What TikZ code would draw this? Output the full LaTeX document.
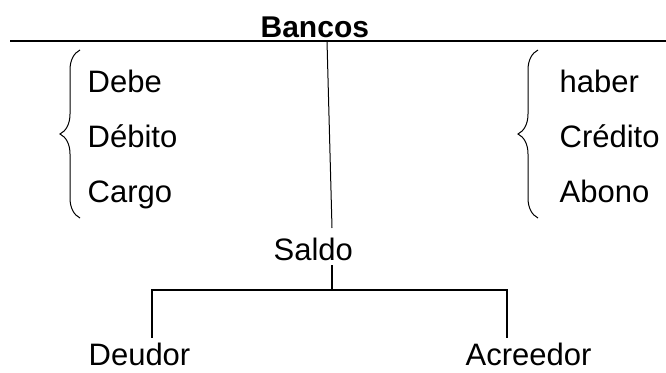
\documentclass[tikz,border=0pt]{standalone}
\usepackage{fontspec}
\setmainfont{Liberation Sans}
\usetikzlibrary{positioning,decorations.pathreplacing}

\begin{document}
\begin{tikzpicture}[%
x=1pt,
y=-1pt,
line width=1.3pt,
word/.style={inner sep=0pt, anchor=base west, font=\fontsize{31}{36}\selectfont},
title/.style={word, font=\fontsize{30}{36}\selectfont\bfseries},
curly/.style={line width=1pt, decorate, decoration={brace, amplitude=20pt, aspect=0.5}}
]
\useasboundingbox (0,0) rectangle (666,372);

% account header
\node[title] (bancos) at (260,37) {Bancos};
\coordinate (ruleL) at (10,41);
\coordinate (ruleR) at (666,41);
\draw (ruleL) -- (ruleR);

% left side
\node[word] (debe) at (87,92) {Debe};
\node[word] (debito) at (87,147) {Débito};
\node[word] (cargo) at (87,202) {Cargo};
\draw[curly] (80,218) -- (80,50);

% right side
\node[word] (haber) at (559,92) {haber};
\node[word] (credito) at (559,147) {Crédito};
\node[word] (abono) at (559,202) {Abono};
\draw[curly] (538,218) -- (538,50);

% stem down to saldo
\coordinate (stemTop) at (327,41);
\coordinate (stemEnd) at (332,228);
\draw[line width=1pt] (stemTop) -- (stemEnd);
\node[word] (saldo) at (273,260) {Saldo};

% saldo splits
\node[word] (deudor) at (88,365) {Deudor};
\node[word] (acreedor) at (465,365) {Acreedor};
\coordinate (split) at (332,290);
\coordinate (forkL) at (152,290);
\coordinate (forkR) at (507,290);
\draw (332,265) -- (split);
\draw (forkL |- deudor.north) ++(0,-4) coordinate (tickL);
\draw (tickL) -- (forkL) -- (forkR) -- (forkR |- tickL);
\end{tikzpicture}
\end{document}
